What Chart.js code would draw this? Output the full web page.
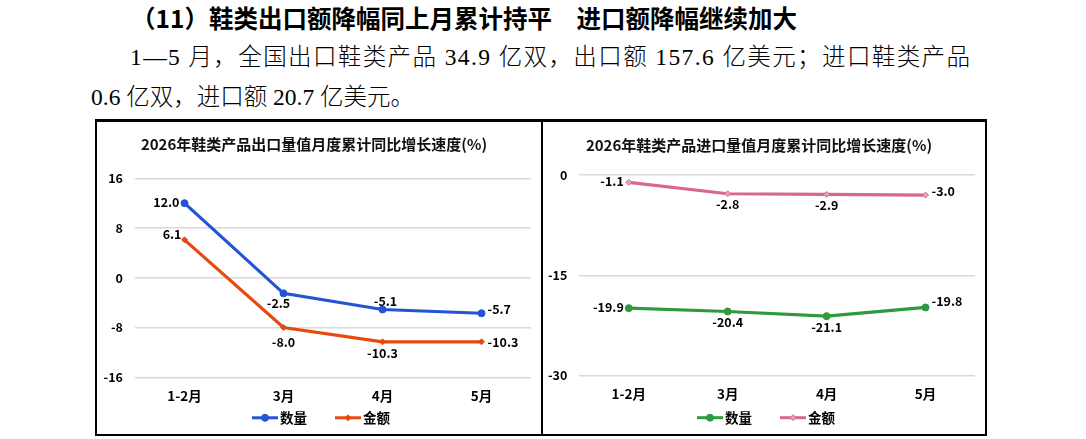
<!DOCTYPE html>
<html>
<head>
<meta charset="utf-8">
<script src="https://cdn.jsdelivr.net/npm/chart.js@4.4.1/dist/chart.umd.min.js"></script>
<style>
  body { margin: 0; width: 1086px; height: 439px; background: #fff; position: relative; overflow: hidden; color: #000; }
  .t { position: absolute; white-space: nowrap; }
  #h1 { left: 131px; top: 3px; font: bold 24.5px/30px "Noto Sans CJK SC", sans-serif; }
  .p { font-family: "Liberation Serif", "Noto Sans CJK SC", serif; font-size: 23.5px; line-height: 30px; font-weight: 300; }
  #p1 { left: 130px; top: 42px; }
  #p2 { left: 91px; top: 82px; }
  #box { position: absolute; left: 95px; top: 119px; width: 888px; height: 312px; border: 2px solid #000; border-top-width: 3px; }
  #div { position: absolute; left: 541px; top: 120px; width: 1.5px; height: 314px; background: #000; }
  canvas { position: absolute; }
  #c1 { left: 97px; top: 122px; }
  #c2 { left: 543px; top: 122px; }
</style>
</head>
<body>
<div class="t" id="h1">（11）鞋类出口额降幅同上月累计持平　进口额降幅继续加大</div>
<div class="t p" id="p1">1—5 月，全国出口鞋类产品 34.9 亿双，出口额 157.6 亿美元；进口鞋类产品</div>
<div class="t p" id="p2">0.6 亿双，进口额 20.7 亿美元。</div>
<div id="box"></div>
<div id="div"></div>
<canvas id="c1" width="444" height="311"></canvas>
<canvas id="c2" width="442" height="311"></canvas>
<script>
// 数据
const categories = ['1-2月', '3月', '4月', '5月'];
const exportQty = [12.0, -2.5, -5.1, -5.7];
const exportVal = [6.1, -8.0, -10.3, -10.3];
const importQty = [-19.9, -20.4, -21.1, -19.8];
const importVal = [-1.1, -2.8, -2.9, -3.0];
const exportTicks = [-16, -8, 0, 8, 16];
const importTicks = [-30, -15, 0];

const FONT = '"Noto Sans CJK SC", sans-serif';

// 正文第二行撑满到右边
const p1 = document.getElementById('p1');
const n = p1.textContent.length;
p1.style.letterSpacing = ((840 - p1.getBoundingClientRect().width) / (n - 1)) + 'px';

// 数据标签偏移 (dx, dy, 对齐)
const offsets = {
  l:  [-5, -1, 'right'],
  la: [-3, -6, 'right'],
  b:  [0, 11, 'center'],
  bl: [-5, 10, 'center'],
  bb: [0, 15, 'center'],
  a:  [3, -8, 'center'],
  r:  [6, -4, 'left'],
  rc: [6, 0, 'left'],
  ra: [6, -6, 'left']
};

const pointLabels = {
  id: 'pointLabels',
  afterDatasetsDraw(chart) {
    const ctx = chart.ctx;
    ctx.save();
    ctx.font = 'bold 12.5px ' + FONT;
    ctx.fillStyle = '#000';
    ctx.textBaseline = 'middle';
    chart.data.datasets.forEach((ds, i) => {
      chart.getDatasetMeta(i).data.forEach((pt, j) => {
        const o = offsets[ds.labelPos[j]];
        ctx.textAlign = o[2];
        ctx.fillText(ds.data[j].toFixed(1), pt.x + o[0], pt.y + o[1]);
      });
    });
    ctx.restore();
  }
};

// 图例: 线 + 标记
const lineLegend = {
  id: 'lineLegend',
  afterDraw(chart) {
    const ctx = chart.ctx;
    const y = chart.chartArea.bottom + chart.options.legendOffset;
    const sym = 26, gap = 28;
    ctx.save();
    ctx.font = 'bold 13.5px ' + FONT;
    const items = chart.data.datasets.map(ds => ({ ds, w: sym + 2 + ctx.measureText(ds.label).width }));
    const total = items.reduce((s, it) => s + it.w, 0) + gap * (items.length - 1);
    let x = chart.width / 2 - total / 2 + chart.options.legendShift;
    items.forEach(it => {
      const ds = it.ds;
      ctx.strokeStyle = ds.borderColor;
      ctx.lineWidth = 3;
      ctx.beginPath();
      ctx.moveTo(x, y);
      ctx.lineTo(x + sym, y);
      ctx.stroke();
      ctx.fillStyle = ds.pointBackgroundColor;
      ctx.strokeStyle = ds.borderColor;
      ctx.lineWidth = 1;
      Chart.helpers.drawPoint(ctx, { pointStyle: ds.pointStyle, radius: ds.pointRadius, borderWidth: 1, rotation: 0 }, x + sym / 2, y);
      ctx.fillStyle = '#000';
      ctx.textAlign = 'left';
      ctx.textBaseline = 'middle';
      ctx.fillText(ds.label, x + sym + 2, y);
      x += it.w + gap;
    });
    ctx.restore();
  }
};

function makeChart(id, title, qty, val, colors, ticks, lp, cfg) {
  return new Chart(document.getElementById(id), {
    type: 'line',
    data: {
      labels: categories,
      datasets: [
        {
          label: '数量', data: qty, labelPos: lp[0],
          borderColor: colors[0], backgroundColor: colors[0], pointBackgroundColor: colors[0],
          borderWidth: 3.2, pointStyle: 'circle', pointRadius: 3.5, pointBorderWidth: 1, tension: 0
        },
        {
          label: '金额', data: val, labelPos: lp[1],
          borderColor: colors[1], backgroundColor: colors[1], pointBackgroundColor: colors[2],
          borderWidth: 3.2, pointStyle: 'rectRot', pointRadius: 3, pointBorderWidth: 1, tension: 0
        }
      ]
    },
    options: {
      responsive: false,
      animation: false,
      legendOffset: cfg.legendOffset,
      legendShift: cfg.legendShift,
      layout: { padding: { left: 0, right: 10, top: 0, bottom: cfg.bottom } },
      plugins: {
        legend: { display: false },
        tooltip: { enabled: false },
        title: {
          display: true, text: title, color: '#111',
          font: { family: FONT, size: 15, weight: 'bold', lineHeight: 1.2 },
          padding: { top: cfg.titleTop, bottom: cfg.titleBottom }
        }
      },
      scales: {
        x: {
          offset: true,
          grid: { display: false, drawTicks: false },
          border: { display: false },
          ticks: { color: '#000', padding: 10, font: { family: FONT, size: 13.5, weight: 'bold' } },
          afterFit: s => { s.height = 26; }
        },
        y: {
          min: ticks[0], max: ticks[ticks.length - 1],
          afterBuildTicks: s => { s.ticks = ticks.map(v => ({ value: v })); },
          grid: { color: '#d9d9d9', lineWidth: 1.5, drawTicks: false },
          border: { display: false },
          ticks: { color: '#000', padding: 12, font: { family: FONT, size: 12.5, weight: 'bold' } },
          afterFit: s => { s.width = cfg.yWidth; }
        }
      }
    },
    plugins: [pointLabels, lineLegend]
  });
}

makeChart('c1', '2026年鞋类产品出口量值月度累计同比增长速度(%)', exportQty, exportVal,
  ['#2254d4', '#e8490f', '#e8490f'], exportTicks,
  [['l', 'bl', 'a', 'r'], ['la', 'bb', 'b', 'rc']],
  { titleTop: 13, titleBottom: 25.3, bottom: 29.7, yWidth: 38, legendOffset: 40.5, legendShift: 2 });

makeChart('c2', '2026年鞋类产品进口量值月度累计同比增长速度(%)', importQty, importVal,
  ['#2e9a3d', '#d9668e', '#eaa0bb'], importTicks,
  [['l', 'b', 'b', 'ra'], ['l', 'b', 'b', 'r']],
  { titleTop: 14, titleBottom: 21, bottom: 31.3, yWidth: 36.3, legendOffset: 42, legendShift: 2 });
</script>
</body>
</html>
